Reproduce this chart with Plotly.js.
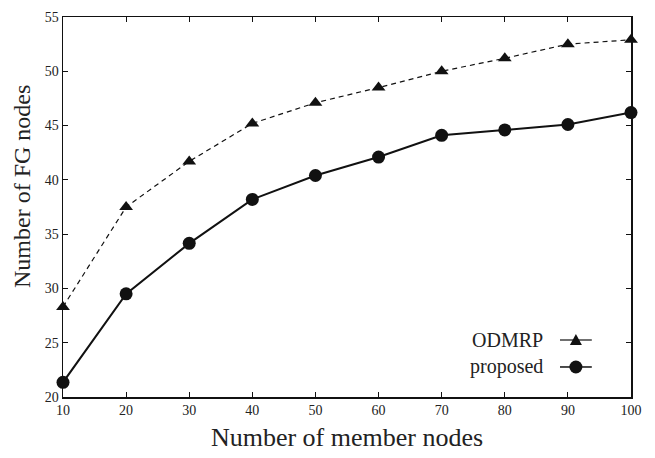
<!DOCTYPE html>
<html>
<head>
<meta charset="utf-8">
<script src="https://cdn.plot.ly/plotly-3.0.1.min.js"></script>
<style>html,body{margin:0;padding:0;background:#fff;}#chart{width:655px;height:458px;}</style>
</head>
<body>
<div id="chart"></div>
<script>
const memberNodes = [10, 20, 30, 40, 50, 60, 70, 80, 90, 100];
const odmrp = [28.3, 37.5, 41.7, 45.2, 47.1, 48.5, 50.0, 51.2, 52.5, 52.9];
const proposed = [21.35, 29.5, 34.15, 38.2, 40.4, 42.1, 44.1, 44.6, 45.1, 46.2];
const seriesNames = ['ODMRP', 'proposed'];
const xTicks = [10, 20, 30, 40, 50, 60, 70, 80, 90, 100];
const yTicks = [20, 25, 30, 35, 40, 45, 50, 55];
const xTitle = 'Number of member nodes';
const yTitle = 'Number of FG nodes';

const font = "'Liberation Serif', 'Times New Roman', serif";

const traces = [
  {x: memberNodes, y: odmrp, name: seriesNames[0], mode: 'lines+markers',
   line: {color: '#111', width: 1.2, dash: '5px,4px'},
   marker: {symbol: 'triangle-up', size: 12, color: '#111'}, cliponaxis: false},
  {x: memberNodes, y: proposed, name: seriesNames[1], mode: 'lines+markers',
   line: {color: '#111', width: 2},
   marker: {symbol: 'circle', size: 13, color: '#111'}, cliponaxis: false}
];

const axisCommon = {
  showgrid: false, zeroline: false, showline: true, linecolor: '#111', linewidth: 1.5,
  mirror: 'ticks', ticks: 'inside', ticklen: 5, tickwidth: 1, tickcolor: '#111',
  tickfont: {family: font, size: 14, color: '#222'}
};

const lx0 = 0.875, lx1 = 0.931, lxc = 0.903, lxt = 0.8486;
const ly = [0.15, 0.079];

const layout = {
  width: 655, height: 458,
  margin: {l: 63, r: 24, t: 17, b: 61},
  paper_bgcolor: '#fff', plot_bgcolor: '#fff',
  showlegend: false,
  xaxis: Object.assign({}, axisCommon, {range: [10, 100], tickvals: xTicks,
    title: {text: xTitle, font: {family: font, size: 26, color: '#222'}, standoff: 10}}),
  yaxis: Object.assign({}, axisCommon, {range: [20, 55], tickvals: yTicks}),
  annotations: seriesNames.map((n, i) => ({
    xref: 'paper', yref: 'paper', x: lxt, y: ly[i], xanchor: 'right', yanchor: 'middle',
    text: n, showarrow: false, font: {family: font, size: 20, color: '#222'}
  })).concat([{
    xref: 'paper', yref: 'paper', x: -0.072, y: 0.553, xanchor: 'center', yanchor: 'middle',
    text: yTitle, textangle: -90, showarrow: false, font: {family: font, size: 24, color: '#222'}
  }]),
  shapes: [
    {type: 'line', xref: 'paper', yref: 'paper', x0: lx0, x1: lx1, y0: ly[0], y1: ly[0], line: {color: '#111', width: 1.2}},
    {type: 'line', xref: 'paper', yref: 'paper', x0: lx0, x1: lx1, y0: ly[1], y1: ly[1], line: {color: '#111', width: 1.5}},
    {type: 'path', xref: 'paper', yref: 'paper', xsizemode: 'pixel', ysizemode: 'pixel',
     xanchor: lxc, yanchor: ly[0], path: 'M -6 -5 L 6 -5 L 0 6 Z', fillcolor: '#111', line: {width: 0}},
    {type: 'circle', xref: 'paper', yref: 'paper', xsizemode: 'pixel', ysizemode: 'pixel',
     xanchor: lxc, yanchor: ly[1], x0: -6.5, x1: 6.5, y0: -6.5, y1: 6.5, fillcolor: '#111', line: {width: 0}}
  ]
};

Plotly.newPlot('chart', traces, layout, {displayModeBar: false, staticPlot: true});
</script>
</body>
</html>
